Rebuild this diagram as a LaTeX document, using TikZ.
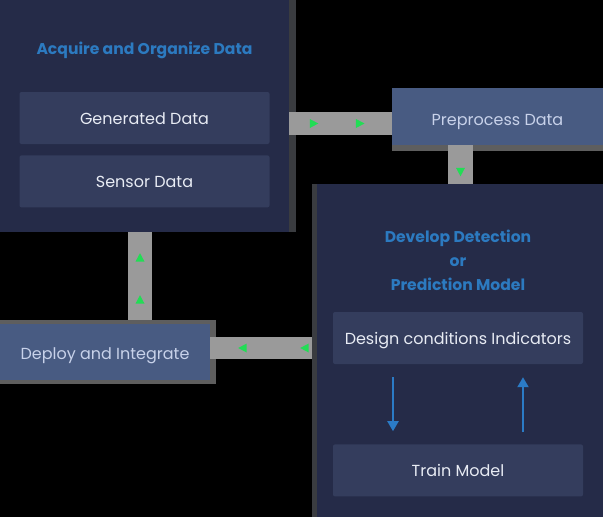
\documentclass[tikz,border=0pt]{standalone}
\usepackage{fontspec}
\setmainfont{Poppins}
\usepackage{xcolor}
\usetikzlibrary{positioning,arrows.meta,decorations.markings}

\definecolor{navy}{HTML}{252B48}
\definecolor{itembg}{HTML}{343D5D}
\definecolor{stagebg}{HTML}{485B82}
\definecolor{itemtxt}{HTML}{E8ECF4}
\definecolor{stagetxt}{HTML}{C8D2EA}
\definecolor{headblue}{HTML}{2C7AC0}
\definecolor{bargray}{HTML}{9A9A9A}
\definecolor{flowgreen}{HTML}{22DD55}
\definecolor{darkshade}{HTML}{3A3C40}
\definecolor{frameshade}{HTML}{5E5E5E}
\definecolor{arrowblue}{HTML}{2B7BC6}

\newcommand{\flowtip}{\fill[flowgreen] (-4pt,-4.5pt) -- (4.5pt,0pt) -- (-4pt,4.5pt) -- cycle;}

\begin{document}
\begin{tikzpicture}[
    x=1pt, y=-1pt,
    panel/.style={rectangle, fill=navy, inner sep=0pt},
    item/.style={rectangle, fill=itembg, rounded corners=2pt, minimum width=250pt, minimum height=52pt, inner sep=0pt, text height=12pt, text depth=0pt, font=\fontsize{16}{19}\selectfont, text=itemtxt},
    stagebox/.style={rectangle, fill=stagebg, inner sep=0pt, text height=12pt, text depth=0pt, font=\fontsize{16}{19}\selectfont, text=stagetxt},
    heading/.style={font=\bfseries\fontsize{15.6}{24}\selectfont, text=headblue, align=center},
    bar/.style={draw=bargray, line width=#1},
    flow/.style n args={2}{postaction={decorate, decoration={markings, mark=at position #1 with {\flowtip}, mark=at position #2 with {\flowtip}}}},
    flowone/.style={postaction={decorate, decoration={markings, mark=at position #1 with {\flowtip}}}},
    loop/.style={draw=arrowblue, line width=2pt, -{Triangle[width=11pt,length=10pt]}}
]
\fill[black] (0,0) rectangle (603,517);
\useasboundingbox (0,0) rectangle (603,517);

\node[panel, minimum width=289pt, minimum height=232pt] (acq) at (144.5,116) {};
\fill[darkshade] (acq.north east) rectangle ([xshift=7pt]acq.south east);
\node[heading] (acqtitle) at (144.5,50) {Acquire and Organize Data};
\node[item] (gen) at (144.5,118) {Generated Data};
\node[item, below=11pt of gen] (sensor) {Sensor Data};

\fill[frameshade] (392,145) rectangle (603,151);
\node[stagebox, minimum width=211pt, minimum height=57pt] (prep) at (497.5,116.5) {\raisebox{-2.5pt}[\height][\depth]{Preprocess Data}};

\node[panel, minimum width=286pt, minimum height=333pt] (dev) at (460,350.5) {};
\fill[darkshade] ([xshift=-5pt]dev.north west) rectangle (dev.south west);
\node[heading] (devtitle) at (458,260) {Develop Detection\\or\\Prediction Model};
\node[item] (design) at (458,338) {Design conditions Indicators};
\node[item, below=80pt of design] (train) {Train Model};

\fill[frameshade] (0,320) rectangle (216,384);
\node[stagebox, minimum width=210pt, minimum height=56pt] (deploy) at (105,352) {\raisebox{-1pt}[\height][\depth]{Deploy and Integrate}};

\draw[bar=23pt, flow={0.24}{0.69}] ([yshift=-7.5pt]acq.east) -- ([yshift=-7pt]prep.west);
\draw[bar=25pt, flowone=0.69] ([xshift=-37pt]prep.south) -- ([xshift=0.5pt]dev.north);
\draw[bar=24pt, flow={0.23}{0.71}] ([xshift=35pt,yshift=4pt]deploy.north) -- ([xshift=-4.5pt]acq.south);
\draw[bar=22pt, flow={0.07}{0.68}] ([xshift=-5pt,yshift=2.5pt]dev.west) -- ([yshift=4pt]deploy.east);

\draw[loop] ([xshift=-65pt,yshift=-13pt]design.south) -- ([xshift=-65pt,yshift=13pt]train.north);
\draw[loop] ([xshift=65pt,yshift=12pt]train.north) -- ([xshift=65pt,yshift=-13pt]design.south);
\end{tikzpicture}
\end{document}
